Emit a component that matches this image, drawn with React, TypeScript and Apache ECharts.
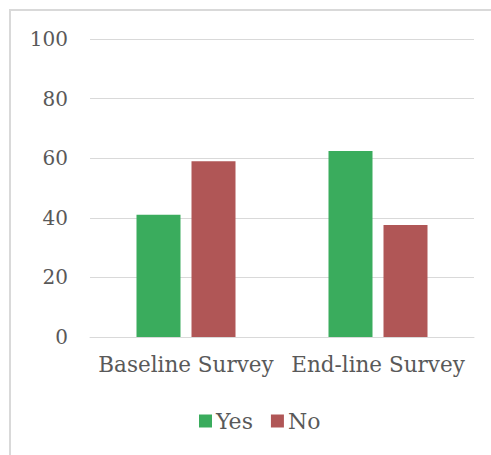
import React, { useEffect, useRef } from "react";
import * as echarts from "echarts";

const categories = ["Baseline Survey", "End-line Survey"];
const yesValues = [41, 62.4];
const noValues = [59, 37.6];
const seriesNames = ["Yes", "No"];

export default function App() {
  const ref = useRef<HTMLDivElement>(null);
  useEffect(() => {
    const chart = echarts.init(ref.current!, null, { renderer: "svg" });
    const font = "DejaVu Serif";
    chart.setOption({
      animation: false,
      textStyle: { fontFamily: font },
      graphic: [
        { type: "line", shape: { x1: 10, y1: 9, x2: 10, y2: 455 }, style: { stroke: "#d9d9d9", lineWidth: 2 } },
        { type: "line", shape: { x1: 9, y1: 10, x2: 491, y2: 10 }, style: { stroke: "#d9d9d9", lineWidth: 2 } },
      ],
      grid: { left: 90, right: 17, top: 39, height: 298, containLabel: false },
      legend: {
        left: 199,
        top: 410,
        padding: 0,
        itemWidth: 13,
        itemHeight: 13,
        itemGap: 18,
        icon: "rect",
        textStyle: { fontFamily: font, fontSize: 22, color: "#595959", padding: [0, 0, 0, -1] },
        data: seriesNames,
      },
      xAxis: {
        type: "category",
        data: categories,
        axisLine: { lineStyle: { color: "#d9d9d9", width: 1 } },
        axisTick: { show: false },
        axisLabel: { fontFamily: font, fontSize: 21.5, color: "#595959", margin: 16, interval: 0 },
      },
      yAxis: {
        type: "value",
        min: 0,
        max: 100,
        interval: 20,
        axisLine: { show: false },
        axisTick: { show: false },
        splitLine: { lineStyle: { color: "#d9d9d9", width: 1 } },
        axisLabel: { fontFamily: font, fontSize: 20, color: "#595959", margin: 22 },
      },
      series: [
        {
          name: seriesNames[0],
          type: "bar",
          data: yesValues,
          barWidth: 44,
          barGap: "25%",
          itemStyle: { color: "#3aac5d" },
        },
        {
          name: seriesNames[1],
          type: "bar",
          data: noValues,
          barWidth: 44,
          itemStyle: { color: "#b05656" },
        },
      ],
    });
    return () => chart.dispose();
  }, []);
  return (
    <div
      ref={ref}
      style={{ position: "absolute", left: 0, top: 0, width: 491, height: 455, background: "#fff" }}
    />
  );
}
